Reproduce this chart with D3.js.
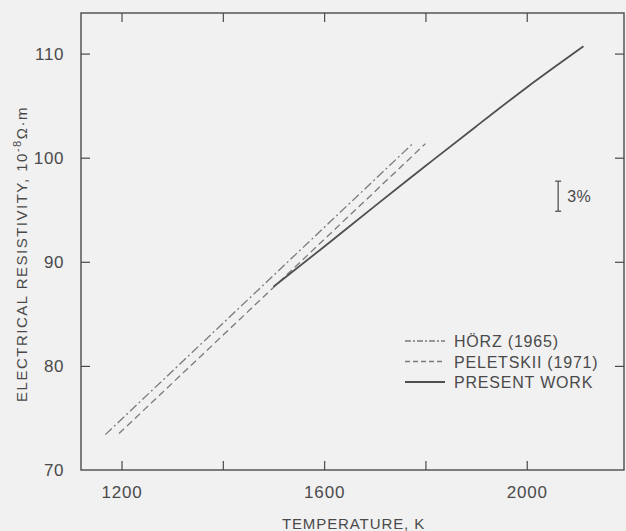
<!DOCTYPE html>
<html lang="en">
<head>
    <meta charset="UTF-8">
    <title>Electrical resistivity vs temperature</title>
    <style>
        body {
            margin: 0;
            padding: 0;
            background: #f1f1f1;
        }
        svg {
            display: block;
            font-family: "Liberation Sans", Arial, sans-serif;
        }
        .frame {
            fill: none;
            stroke: #4a4a4a;
            stroke-width: 1.4px;
        }
        .tick line {
            stroke: #4a4a4a;
            stroke-width: 1.2px;
        }
        .lbl {
            fill: #4a4a4a;
        }
    </style>
</head>
<body>
    <div id="chart"></div>

    <script src="https://d3js.org/d3.v7.min.js"></script>
    <script>
        // Valores
        const xTicks = [1200, 1400, 1600, 1800, 2000];
        const xTickLabels = ["1200", "", "1600", "", "2000"];
        const yTicks = [70, 80, 90, 100, 110];

        const hoerzT = [1168, 1776];
        const hoerzRho = [73.4, 101.4];

        const peletskiiT = [1195, 1800];
        const peletskiiRho = [73.5, 101.35];

        const presentT = [1500, 1600, 1700, 1800, 1900, 2000, 2112];
        const presentRho = [87.6, 91.45, 95.35, 99.2, 103.0, 106.75, 110.7];

        const legendNames = ["HÖRZ (1965)", "PELETSKII (1971)", "PRESENT WORK"];

        // barra de 3%
        const errT = 2062;
        const errRho = 96.3;
        const errPct = 3;

        // Configurações
        const W = 626, H = 531;
        const mLeft = 81, mRight = 624, mTop = 13, mBottom = 470;

        const svg = d3.select("#chart").append("svg")
            .attr("width", W)
            .attr("height", H);

        const x = d3.scaleLinear().domain([1120, 2192]).range([mLeft, mRight]);
        const y = d3.scaleLinear().domain([70, 113.9]).range([mBottom, mTop]);

        // eixos (ticks para dentro)
        svg.append("g")
            .attr("transform", `translate(0,${mBottom})`)
            .call(d3.axisBottom(x).tickValues(xTicks).tickSize(-9).tickPadding(16)
                .tickFormat((d, i) => xTickLabels[i]))
            .call(g => g.select(".domain").remove())
            .call(g => g.selectAll("text").attr("class", "lbl").attr("font-size", 17)
                .attr("font-family", "Liberation Sans, Arial, sans-serif").attr("letter-spacing", 0.8));

        svg.append("g")
            .attr("transform", `translate(0,${mTop})`)
            .call(d3.axisTop(x).tickValues(xTicks).tickSize(-9).tickFormat(""))
            .call(g => g.select(".domain").remove());

        svg.append("g")
            .attr("transform", `translate(${mLeft},0)`)
            .call(d3.axisLeft(y).tickValues(yTicks).tickSize(-9).tickPadding(17))
            .call(g => g.select(".domain").remove())
            .call(g => g.selectAll(".tick").filter(d => d === 70).select("line").remove())
            .call(g => g.selectAll("text").attr("class", "lbl").attr("font-size", 17)
                .attr("font-family", "Liberation Sans, Arial, sans-serif").attr("letter-spacing", 0.6));

        svg.append("g")
            .attr("transform", `translate(${mRight},0)`)
            .call(d3.axisRight(y).tickValues(yTicks.slice(1)).tickSize(-9).tickFormat(""))
            .call(g => g.select(".domain").remove());

        svg.append("rect")
            .attr("class", "frame")
            .attr("x", mLeft).attr("y", mTop)
            .attr("width", mRight - mLeft).attr("height", mBottom - mTop);

        // curvas
        const line = d3.line()
            .x(d => x(d[0]))
            .y(d => y(d[1]))
            .curve(d3.curveNatural);

        const series = [
            { T: hoerzT, rho: hoerzRho, dash: "9,3,2,3", color: "#7a7a7a", w: 1.3 },
            { T: peletskiiT, rho: peletskiiRho, dash: "7,4", color: "#7a7a7a", w: 1.3 },
            { T: presentT, rho: presentRho, dash: null, color: "#4f4f4f", w: 1.8 }
        ];

        series.forEach(s => {
            svg.append("path")
                .datum(d3.zip(s.T, s.rho))
                .attr("d", line)
                .attr("fill", "none")
                .attr("stroke", s.color)
                .attr("stroke-width", s.w)
                .attr("stroke-dasharray", s.dash);
        });

        // barra de erro 3%
        const half = errRho * errPct / 100 / 2;
        const ex = x(errT);
        const eg = svg.append("g").attr("stroke", "#555").attr("stroke-width", 1.3);
        eg.append("line").attr("x1", ex).attr("x2", ex).attr("y1", y(errRho + half)).attr("y2", y(errRho - half));
        eg.append("line").attr("x1", ex - 3).attr("x2", ex + 3).attr("y1", y(errRho + half)).attr("y2", y(errRho + half));
        eg.append("line").attr("x1", ex - 3).attr("x2", ex + 3).attr("y1", y(errRho - half)).attr("y2", y(errRho - half));
        svg.append("text")
            .attr("class", "lbl")
            .attr("x", ex + 9)
            .attr("y", y(errRho) + 6)
            .attr("font-size", 16)
            .attr("letter-spacing", 0.5)
            .text(errPct + "%");

        // legenda
        const legend = svg.append("g").attr("transform", "translate(405,341)");
        series.forEach((s, i) => {
            legend.append("line")
                .attr("x1", 0).attr("x2", 40)
                .attr("y1", i * 20.5).attr("y2", i * 20.5)
                .attr("stroke", s.color)
                .attr("stroke-width", s.w)
                .attr("stroke-dasharray", s.dash ? (i === 0 ? "6,2,2,2" : "5,3") : null);
            legend.append("text")
                .attr("class", "lbl")
                .attr("x", 49)
                .attr("y", i * 20.5 + 6)
                .attr("font-size", 16)
                .attr("letter-spacing", 0.8)
                .text(legendNames[i]);
        });

        // títulos dos eixos
        svg.append("text")
            .attr("class", "lbl")
            .attr("x", (mLeft + mRight) / 2 + 1)
            .attr("y", 529)
            .attr("text-anchor", "middle")
            .attr("font-size", 15)
            .attr("letter-spacing", 0.9)
            .text("TEMPERATURE, K");

        const yl = svg.append("text")
            .attr("class", "lbl")
            .attr("transform", "translate(27,254) rotate(-90)")
            .attr("text-anchor", "middle")
            .attr("font-size", 15)
            .attr("letter-spacing", 1.5);
        yl.append("tspan").text("ELECTRICAL RESISTIVITY, 10");
        yl.append("tspan").attr("dy", -6).attr("font-size", 11).text("-8");
        yl.append("tspan").attr("dy", 6).text("Ω·m");
    </script>
</body>
</html>
